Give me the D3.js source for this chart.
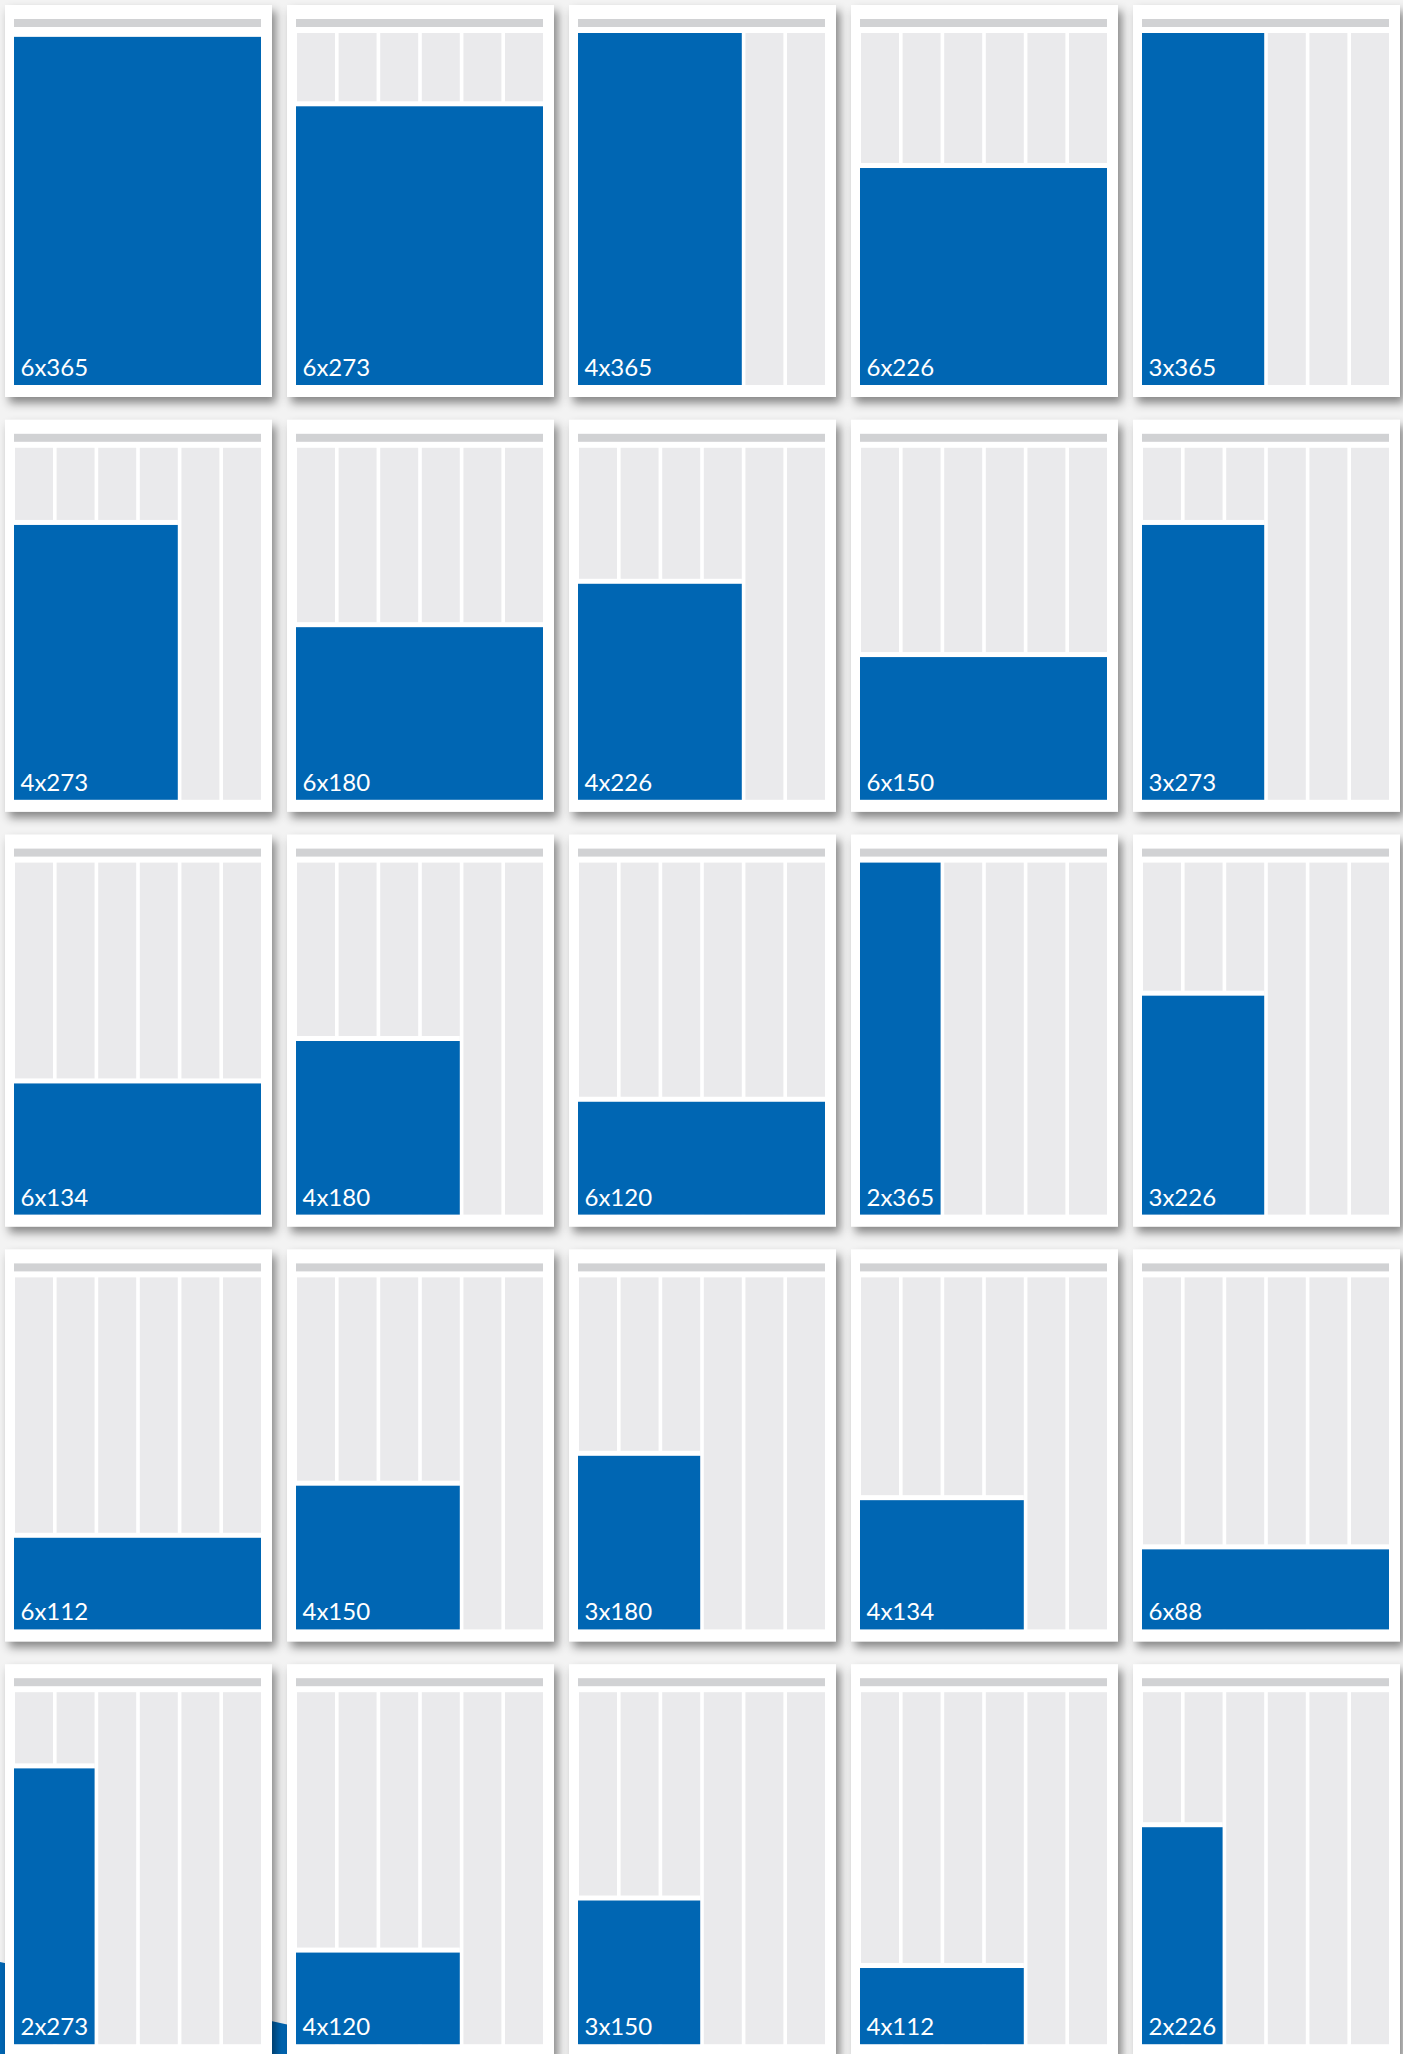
<!DOCTYPE html>
<html>
<head>
<meta charset="utf-8">
<script src="https://cdn.jsdelivr.net/npm/d3@7"></script>
<style>
  html, body { margin: 0; padding: 0; background: #f3f3f3; overflow: hidden; }
  svg { display: block; }
</style>
</head>
<body>
<div id="chart"></div>
<script>
// Card labels as printed (columns x days)
const labels = [
    '6x365', '6x273', '4x365', '6x226', '3x365',
    '4x273', '6x180', '4x226', '6x150', '3x273',
    '6x134', '4x180', '6x120', '2x365', '3x226',
    '6x112', '4x150', '3x180', '4x134', '6x88',
    '2x273', '4x120', '3x150', '4x112', '2x226'
];

// Number of columns the blue block covers (out of 6)
const spans = [
    6, 6, 4, 6, 3,
    4, 6, 4, 6, 3,
    6, 4, 6, 2, 3,
    6, 4, 3, 4, 6,
    2, 4, 3, 4, 2
];

// Block height in days (0 - 365 scale)
const days = [
    361, 289, 365, 225, 365,
    285, 179, 224, 148, 285,
    136, 180, 117, 365, 227,
    95, 149, 180, 134, 83,
    286, 95, 149, 79, 225
];

const columns = [1, 2, 3, 4, 5, 6];

const width = 1403;
const height = 2054;
const perRow = 5;
const cardW = 267;
const cardH = 392;
const pitchX = 282;
const pitchY = 414.8;

const svg = d3.select('#chart')
    .append('svg')
    .attr('width', width)
    .attr('height', height);

// Drop shadow for the cards
const defs = svg.append('defs');
const shadow = defs.append('filter')
    .attr('id', 'shadow')
    .attr('x', '-10%').attr('y', '-10%')
    .attr('width', '125%').attr('height', '125%');
shadow.append('feDropShadow')
    .attr('dx', 4)
    .attr('dy', 6)
    .attr('stdDeviation', 5)
    .attr('flood-color', '#000')
    .attr('flood-opacity', 0.45);

svg.append('rect')
    .attr('width', width)
    .attr('height', height)
    .attr('fill', '#f3f3f3');

// Blue band peeking out behind the bottom-left cards
svg.append('path')
    .attr('d', d3.line()([[0, 1962], [620, 2097], [620, 2060], [0, 2060]]))
    .attr('fill', '#0066b3');

// Scales shared by every card
const x = d3.scaleBand()
    .domain(columns)
    .range([10, 256])
    .paddingInner(0.087)
    .paddingOuter(0);

const y = d3.scaleLinear()
    .domain([0, 365])
    .range([380, 28]);

const data = labels.map((label, i) => ({
    label,
    span: spans[i],
    days: days[i],
    col: i % perRow,
    row: Math.floor(i / perRow)
}));

const cards = svg.selectAll('.card')
    .data(data)
    .enter()
    .append('g')
    .attr('class', 'card')
    .attr('transform', d => `translate(${5 + d.col * pitchX},${5 + d.row * pitchY})`);

// Card body
cards.append('rect')
    .attr('width', cardW)
    .attr('height', cardH)
    .attr('fill', '#ffffff')
    .attr('filter', 'url(#shadow)');

// Header bar
cards.append('rect')
    .attr('x', 9)
    .attr('y', 14)
    .attr('width', 247)
    .attr('height', 8)
    .attr('fill', '#d1d2d4');

// Background columns
cards.selectAll('.col')
    .data(columns)
    .enter()
    .append('rect')
    .attr('class', 'col')
    .attr('x', c => x(c))
    .attr('y', y(365))
    .attr('width', x.bandwidth())
    .attr('height', y(0) - y(365))
    .attr('fill', '#eaeaec');

// White gap above the block
cards.append('rect')
    .attr('x', 9)
    .attr('y', d => y(d.days) - 5)
    .attr('width', d => x(d.span) + x.bandwidth() - 9)
    .attr('height', d => y(0) - y(d.days) + 5)
    .attr('fill', '#ffffff');

// Blue block
cards.append('rect')
    .attr('class', 'block')
    .attr('x', 9)
    .attr('y', d => y(d.days))
    .attr('width', d => x(d.span) + x.bandwidth() - 9)
    .attr('height', d => y(0) - y(d.days))
    .attr('fill', '#0066b3');

// Label
cards.append('text')
    .attr('x', 15.5)
    .attr('y', 371)
    .attr('fill', '#ffffff')
    .style('font-family', 'Lato, "Open Sans", sans-serif')
    .style('font-size', '24px')
    .text(d => d.label);
</script>
</body>
</html>
